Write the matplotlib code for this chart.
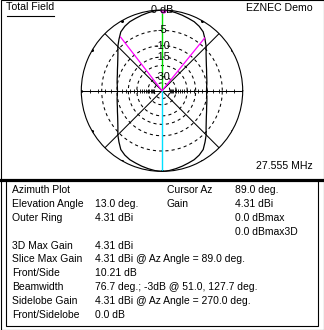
import numpy as np
import matplotlib
matplotlib.use("Agg")
import matplotlib.pyplot as plt
from matplotlib.lines import Line2D
from matplotlib.patches import Rectangle

plt.rcParams['font.family'] = ['Liberation Sans', 'DejaVu Sans']

# ---- data ----
az_deg = list(range(0, 360, 5))
gain_db = [-10.2, -10.1, -9.8, -9.5, -9.1, -8.5, -7.8, -6.9, -5.8, -4.4, -3.2, -2.0, -1.4, -1.0, -0.8, -0.55, -0.32, -0.1, 0.0,
           -0.1, -0.32, -0.55, -0.8, -1.0, -1.4, -2.0, -3.2, -4.4, -5.8, -6.9, -7.8, -8.5, -9.1, -9.5, -9.8, -10.1, -10.2,
           -10.1, -9.8, -9.5, -9.1, -8.5, -7.8, -6.9, -5.8, -4.4, -3.2, -2.0, -1.4, -1.0, -0.8, -0.55, -0.32, -0.1, 0.0,
           -0.1, -0.32, -0.55, -0.8, -1.0, -1.4, -2.0, -3.2, -4.4, -5.8, -6.9, -7.8, -8.5, -9.1, -9.5, -9.8, -10.1]
ring_db = [-5, -10, -15, -20, -30, -40]
ring_labels = {0: "0 dB", -5: "-5", -10: "-10", -15: "-15", -30: "-30"}
cursor_az = 89.0
bw_edges = [51.0, 127.7]
bw_db = -3.0

info_rows = [
    ("Azimuth Plot", "", "Cursor Az", "89.0 deg."),
    ("Elevation Angle", "13.0 deg.", "Gain", "4.31 dBi"),
    ("Outer Ring", "4.31 dBi", "", "0.0 dBmax"),
    ("", "", "", "0.0 dBmax3D"),
    ("3D Max Gain", "4.31 dBi", "", ""),
    ("Slice Max Gain", "4.31 dBi @ Az Angle = 89.0 deg.", "", ""),
    ("Front/Side", "10.21 dB", "", ""),
    ("Beamwidth", "76.7 deg.; -3dB @ 51.0, 127.7 deg.", "", ""),
    ("Sidelobe Gain", "4.31 dBi @ Az Angle = 270.0 deg.", "", ""),
    ("Front/Sidelobe", "0.0 dB", "", ""),
]

W, H = 324, 330
def r_of(db):
    return 0.89 ** (-np.asarray(db, dtype=float) / 2.0)

fig = plt.figure(figsize=(W / 100, H / 100), dpi=100)
fig.patch.set_facecolor('white')

cx, cy, R = 162, 90.7, 80.7
ax = fig.add_axes([(cx - R) / W, (H - cy - R) / H, 2 * R / W, 2 * R / H], projection='polar')
ax.set_ylim(0, 1)
ax.set_xticks([]); ax.set_yticks([])
ax.grid(False)
ax.spines['polar'].set_linewidth(0.8)
ax.spines['polar'].set_color('black')

full = np.linspace(0, 2 * np.pi, 361)
lw = 0.75
for db in ring_db:
    ax.plot(full, np.full_like(full, r_of(db)), color='black', lw=lw, ls=(0, (3, 3)))

# axes lines
for th in [0, np.pi, np.pi / 4, 3 * np.pi / 4, 5 * np.pi / 4, 7 * np.pi / 4]:
    ax.plot([th, th], [0, 1], color='black', lw=lw)

# ticks on horizontal axis (2 dB steps)
for k in range(1, 21):
    rr = 0.89 ** k
    for th in [0, np.pi]:
        ax.plot([th], [rr], marker='|', ms=2.4, mew=0.6, color='black')

# small marks on outer ring
for a in range(0, 360, 30):
    ax.plot([np.deg2rad(a)], [1.0], marker='o', ms=1.2, color='black')

# pattern
th = np.deg2rad(az_deg + [az_deg[0] + 360])
rp = r_of(gain_db + [gain_db[0]])
ax.plot(th, rp, color='black', lw=0.9)

# cursor lines
ax.plot([np.pi / 2, np.pi / 2], [0, 1], color='#00dd00', lw=1.0)
ax.plot([3 * np.pi / 2, 3 * np.pi / 2], [0, 1], color='#00e0ff', lw=1.0)
for a in bw_edges:
    ax.plot([np.deg2rad(a)] * 2, [0, r_of(bw_db)], color='#ff00ff', lw=0.9)
ax.plot([np.deg2rad(cursor_az)], [1.0], marker='o', ms=3.5, color='#cc44cc', mec='#ff00ff')

for db, lab in ring_labels.items():
    ax.text(np.pi / 2, r_of(db), lab, ha='center', va='center', fontsize=7.8, color='black', zorder=5)

# figure texts
def fx(x): return x / W
def fy(y): return 1 - y / H

fig.text(fx(6.5), fy(7.5), "Total Field", fontsize=7.6, ha='left', va='center')
fig.add_artist(Line2D([fx(6.5), fx(53.5)], [fy(15.5), fy(15.5)], color='black', lw=0.8))
fig.text(fx(313), fy(8), "EZNEC Demo", fontsize=7.6, ha='right', va='center')
fig.text(fx(313), fy(166), "27.555 MHz", fontsize=7.6, ha='right', va='center')

# separator and boxes
fig.add_artist(Line2D([0, 1], [fy(179.5), fy(179.5)], color='black', lw=2.3))
fig.add_artist(Rectangle((fx(6), fy(326)), fx(318) - fx(6), fy(180) - fy(326),
                         fill=False, edgecolor='black', lw=0.8, transform=fig.transFigure))
fig.add_artist(Rectangle((fx(0.5), fy(329.5)), fx(323.5) - fx(0.5), fy(0.5) - fy(329.5),
                         fill=False, edgecolor='black', lw=0.8, transform=fig.transFigure))

cols = [11.7, 95, 166.7, 235]
for i, row in enumerate(info_rows):
    y = 190 + 13.9 * i
    for j, t in enumerate(row):
        if t:
            fig.text(fx(cols[j]), fy(y), t, fontsize=7.5, ha='left', va='center')

fig.savefig("out.png", dpi=100, facecolor='white')
